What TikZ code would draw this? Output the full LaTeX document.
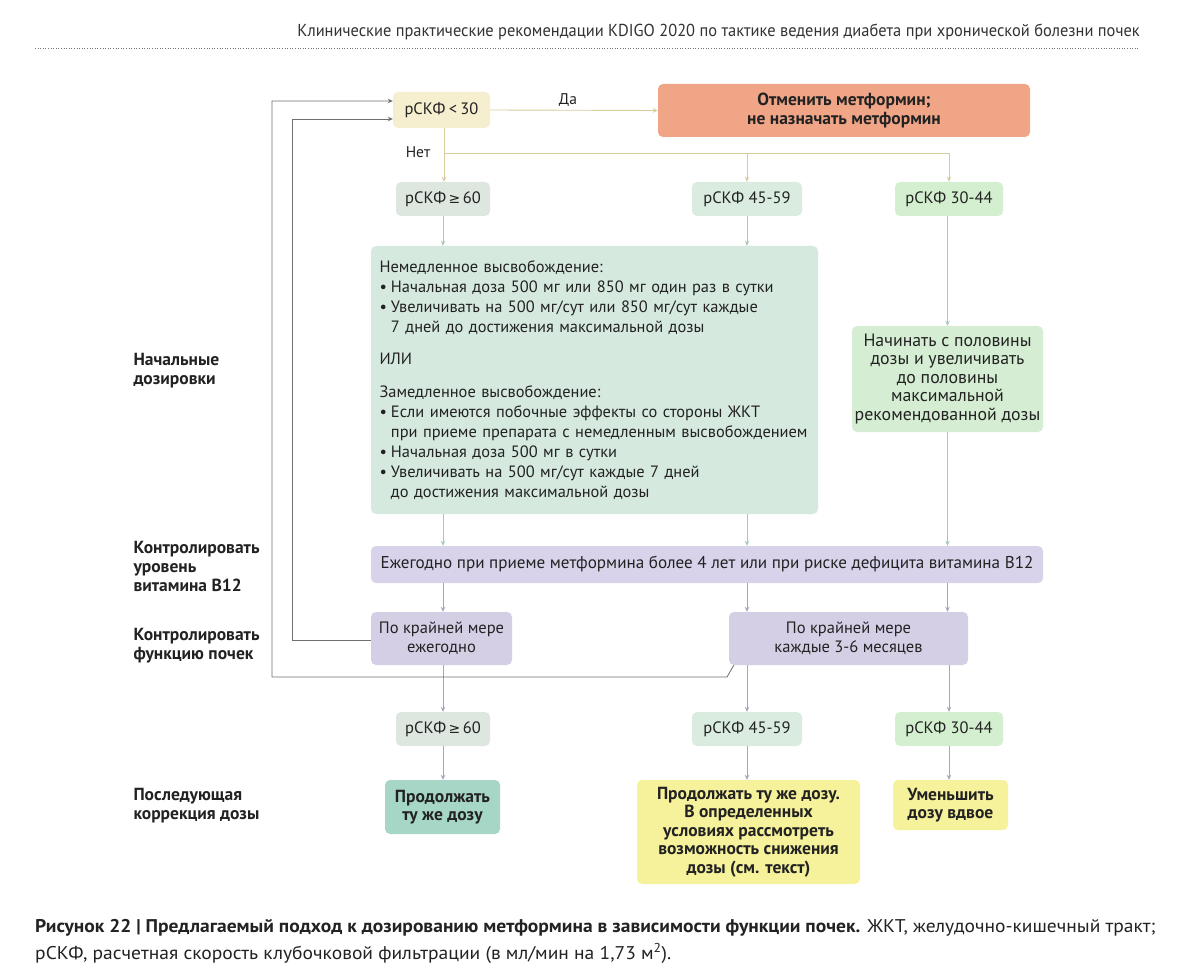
\documentclass[tikz,border=0pt]{standalone}
\usepackage{fontspec}
\setmainfont{PT Sans}
\newfontfamily\cnd[FakeStretch=0.95]{PT Sans}
\newfontfamily\capf[FakeStretch=1.06]{PT Sans}
\newfontfamily\dejavu{DejaVu Sans}
\newcommand\gesym{\hspace{0.15em}{\dejavu\fontsize{14}{14}\selectfont ≥}\hspace{0.15em}}
\usetikzlibrary{arrows.meta}
\definecolor{cYel}{HTML}{F6EFCF}
\definecolor{cSal}{HTML}{F1A587}
\definecolor{cG1}{HTML}{DDE6DF}
\definecolor{cG2}{HTML}{D9ECDF}
\definecolor{cG3}{HTML}{D4EFCF}
\definecolor{cBig}{HTML}{D6E9DF}
\definecolor{cHalf}{HTML}{D5EED3}
\definecolor{cLav}{HTML}{D8D3EA}
\definecolor{cLav2}{HTML}{D5CFE6}
\definecolor{cTeal}{HTML}{A6D6C5}
\definecolor{cYB}{HTML}{F6F19B}
\definecolor{cTxt}{HTML}{222222}
\definecolor{aTan}{HTML}{D8CB9E}
\definecolor{aGrn}{HTML}{A9C8B8}
\definecolor{aLav}{HTML}{A9A4BE}
\definecolor{aGray}{HTML}{707070}
\begin{document}
\begin{tikzpicture}[x=1pt,y=-1pt,
  box/.style={rectangle, rounded corners=5pt, inner sep=3pt, align=center, text=cTxt,
    font=\fontsize{16.5}{19}\selectfont},
  bbox/.style={box, font=\bfseries\fontsize{17.5}{18.5}\selectfont},
  lbl/.style={anchor=west, align=left, text=cTxt, font=\bfseries\fontsize{17.5}{19}\selectfont},
  arr/.style={-{Stealth[length=5pt,width=4.5pt]}, line width=0.9pt},
  fb/.style={arr, draw=aGray, line width=0.8pt}]
\useasboundingbox (0,0) rectangle (1200,976);
\fill[white] (0,0) rectangle (1200,976);

% header
\node[anchor=base east, inner sep=0, text=black!80, font=\cnd\fontsize{17.3}{20}\selectfont] (hdr) at (1140,37)
  {Клинические практические рекомендации KDIGO 2020 по тактике ведения диабета при хронической болезни почек};
\draw[black!55, line width=0.9pt, dash pattern=on 1pt off 1.6pt] (35,48) -- (1140,48);

% top row
\node[box, fill=cYel, minimum width=97pt, minimum height=36pt] (q30) at (441.5,110) {рСКФ\hspace{0.2em}<\hspace{0.2em}30};
\node[bbox, fill=cSal, minimum width=372pt, minimum height=53pt] (stop) at (844,110.5)
  {Отменить метформин;\\не назначать метформин};
\node[box, fill=cG1, minimum width=94pt, minimum height=34pt] (g60a) at (443,199) {рСКФ\gesym60};
\node[box, fill=cG2, minimum width=110pt, minimum height=34pt] (g45a) at (747,199) {рСКФ 45-59};
\node[box, fill=cG3, minimum width=108pt, minimum height=34pt] (g30a) at (949,199) {рСКФ 30-44};

% initial doses
\node[box, fill=cBig, minimum width=447pt, minimum height=268pt, align=left, inner xsep=8.5pt,
  text width=430pt, font=\fontsize{16.4}{20}\selectfont] (big) at (594.5,380)
  {Немедленное высвобождение:\\
   \makebox[0.7em][l]{•}Начальная доза 500 мг или 850 мг один раз в сутки\\
   \makebox[0.7em][l]{•}Увеличивать на 500 мг/сут или 850 мг/сут каждые\\
   \hspace*{0.7em}7 дней до достижения максимальной дозы\\[12pt]
   ИЛИ\\[13pt]
   Замедленное высвобождение:\\
   \makebox[0.7em][l]{•}Если имеются побочные эффекты со стороны ЖКТ\\
   \hspace*{0.7em}\mbox{при приеме препарата с немедленным высвобождением}\\
   \makebox[0.7em][l]{•}Начальная доза 500 мг в сутки\\
   \makebox[0.7em][l]{•}Увеличивать на 500 мг/сут каждые 7 дней\\
   \hspace*{0.7em}до достижения максимальной дозы};
\node[box, fill=cHalf, minimum width=191pt, minimum height=106pt, inner xsep=1pt,
  font=\fontsize{17.8}{18.5}\selectfont] (half) at (947.5,379)
  {Начинать с половины\\дозы и увеличивать\\до половины\\максимальной\\рекомендованной дозы};

% B12
\node[box, fill=cLav, minimum width=672pt, minimum height=37pt, font=\fontsize{17.1}{19}\selectfont] (b12) at (707,564.5)
  {Ежегодно при приеме метформина более 4 лет или при риске дефицита витамина B12};

% kidney function
\node[box, fill=cLav2, minimum width=141pt, minimum height=53pt] (yr) at (441.5,638.5)
  {По крайней мере\\ежегодно};
\node[box, fill=cLav2, minimum width=239pt, minimum height=53pt] (m36) at (848.5,638.5)
  {По крайней мере\\каждые 3-6 месяцев};

% bottom row
\node[box, fill=cG1, minimum width=94pt, minimum height=34pt] (g60b) at (443,729) {рСКФ\gesym60};
\node[box, fill=cG2, minimum width=110pt, minimum height=34pt] (g45b) at (747,729) {рСКФ 45-59};
\node[box, fill=cG3, minimum width=108pt, minimum height=34pt] (g30b) at (949,729) {рСКФ 30-44};

\node[bbox, fill=cTeal, minimum width=115pt, minimum height=54pt] (cont) at (442.5,807)
  {Продолжать\\ту же дозу};
\node[bbox, fill=cYB, minimum width=223pt, minimum height=104pt] (condb) at (748.5,832)
  {Продолжать ту же дозу.\\В определенных\\условиях рассмотреть\\возможность снижения\\дозы (см. текст)};
\node[bbox, fill=cYB, minimum width=115pt, minimum height=50pt] (halfb) at (950.5,805)
  {Уменьшить\\дозу вдвое};

% left labels
\node[lbl] (l1) at (130,371) {Начальные\\дозировки};
\node[lbl] (l2) at (130,566) {Контролировать\\уровень\\витамина B12};
\node[lbl] (l3) at (130,646) {Контролировать\\функцию почек};
\node[lbl] (l4) at (130,806) {Последующая\\коррекция дозы};

% yes / no labels
\node[text=cTxt, font=\fontsize{15.5}{18}\selectfont] (yes) at (568,100) {Да};
\node[text=cTxt, font=\fontsize{15.5}{18}\selectfont] (no) at (418,152) {Нет};

% connectors
\draw[arr, draw=aTan] (q30.east) -- (stop.west);
\coordinate (split) at (444,153);
\draw[arr, draw=aTan] (q30.south -| split) -- (g60a.north -| split);
\draw[arr, draw=aTan] (split) -| (g45a.north);
\draw[arr, draw=aTan] (split) -| (g30a.north);

\draw[arr, draw=aGrn] (g60a.south) -- (g60a.south |- big.north);
\draw[arr, draw=aGrn] (g45a.south) -- (g45a.south |- big.north);
\draw[arr, draw=aGrn] (g30a.south -| half.north) -- (half.north);

\draw[arr, draw=aGrn] (big.south -| g60a.south) -- (b12.north -| g60a.south);
\draw[arr, draw=aGrn] (big.south -| g45a.south) -- (b12.north -| g45a.south);
\draw[arr, draw=aGrn] (half.south) -- (b12.north -| half.south);

\draw[arr, draw=aLav] (b12.south -| g60a.south) -- (yr.north -| g60a.south);
\draw[arr, draw=aLav] (b12.south -| g45a.south) -- (m36.north -| g45a.south);
\draw[arr, draw=aLav] (b12.south -| half.south) -- (m36.north -| half.south);

\draw[arr, draw=aLav] (yr.south -| g60a.south) -- (g60b.north);
\draw[arr, draw=aLav] (m36.south -| g45b.north) -- (g45b.north);
\draw[arr, draw=aLav] (m36.south -| g30b.north) -- (g30b.north);

\draw[arr, draw=aLav] (g60b.south) -- (g60b.south |- cont.north);
\draw[arr, draw=aLav] (g45b.south) -- (g45b.south |- condb.north);
\draw[arr, draw=aLav] (g30b.south) -- (g30b.south |- halfb.north);

% feedback loops
\coordinate (fbin) at (292,640);
\coordinate (fbout) at (272,677);
\coordinate (fbturn) at (727,677);
\draw[fb] (yr.west |- fbin) -- (fbin) |- ([yshift=-9pt]q30.west);
\draw[fb] ([xshift=5pt]m36.south west) -- (fbturn) -- (fbout) |- ([yshift=9pt]q30.west);

% caption
\node[anchor=base west, inner sep=0, text=cTxt, font=\capf\fontsize{18.4}{20}\selectfont] (cap1) at (35,932)
  {{\bfseries Рисунок 22 | Предлагаемый подход к дозированию метформина в зависимости функции почек.} ЖКТ, желудочно-кишечный тракт;};
\node[anchor=base west, inner sep=0, text=cTxt, font=\capf\fontsize{18.4}{20}\selectfont] (cap2) at (35,959)
  {рСКФ, расчетная скорость клубочковой фильтрации (в мл/мин на 1,73 м\textsuperscript{2}).};
\end{tikzpicture}
\end{document}
